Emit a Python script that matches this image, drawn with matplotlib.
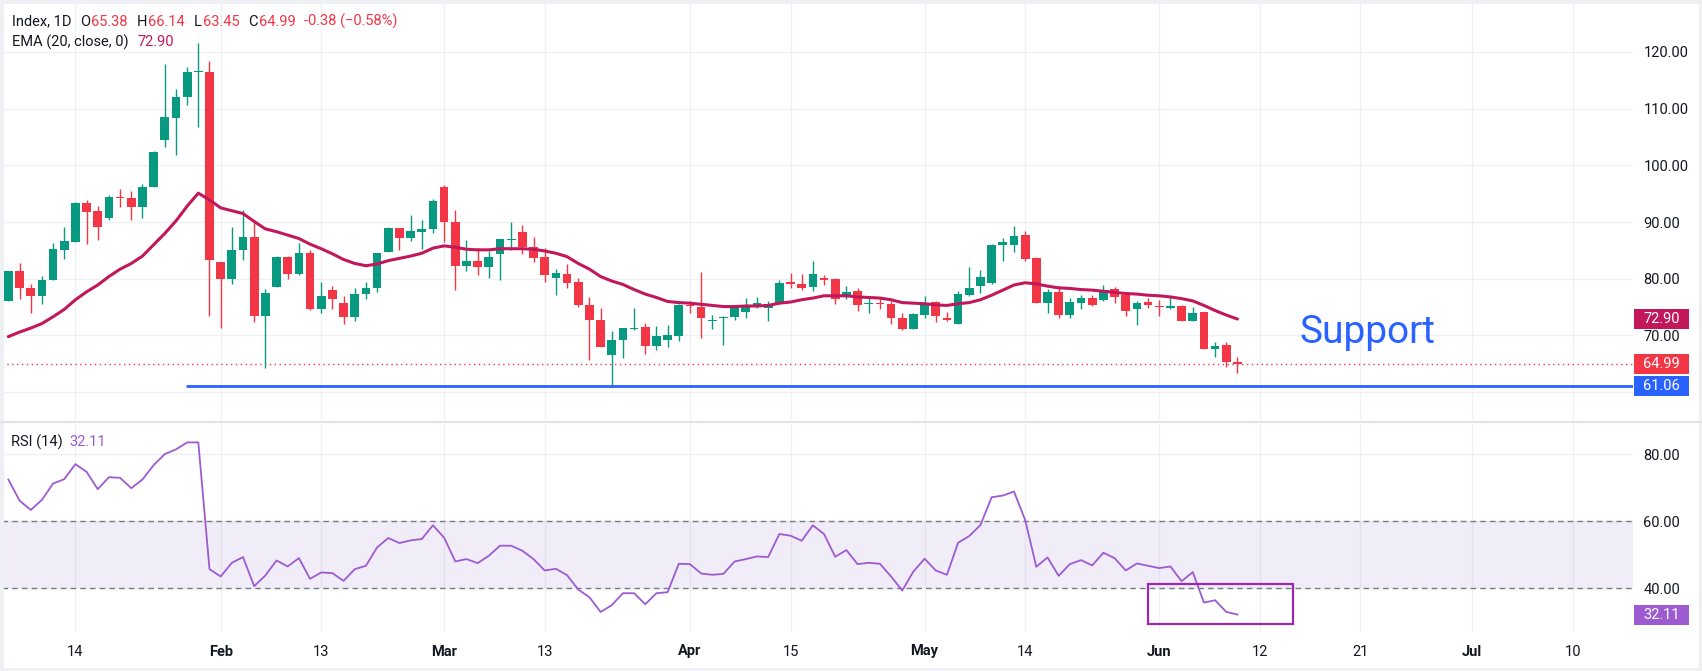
import numpy as np
import matplotlib
matplotlib.use("Agg")
import matplotlib.pyplot as plt
from matplotlib.patches import Rectangle
from matplotlib.lines import Line2D
from matplotlib.transforms import blended_transform_factory

plt.rcParams['font.family'] = ['Roboto', 'DejaVu Sans']

# daily candles (bar index 0 .. 110)
opens = [76.1, 81.4, 78.4, 76.9, 79.8, 85.1, 86.5, 93.3, 91.9, 90.7,
         94.4, 94.3, 92.6, 96.1, 104.5, 108.4, 112.0, 116.4, 116.5, 82.9,
         79.9, 85.0, 87.4, 73.5, 78.6, 83.8, 80.9, 84.5, 74.7, 78.1,
         75.8, 73.2, 77.3, 78.3, 84.7, 89.0, 87.2, 88.3, 88.7, 96.2,
         90.0, 82.3, 83.1, 82.0, 84.3, 86.9, 88.2, 85.6, 83.8, 80.2,
         80.9, 79.5, 75.4, 72.8, 66.6, 69.2, 71.1, 71.5, 68.2, 69.2,
         69.9, 75.3, 75.1, 72.5, 73.0, 73.2, 74.2, 75.3, 74.8, 75.5,
         79.5, 79.1, 78.5, 80.2, 80.0, 76.9, 77.8, 75.6, 75.6, 75.5,
         73.1, 71.2, 73.7, 75.9, 73.0, 72.1, 77.1, 78.8, 79.3, 86.0,
         85.9, 87.7, 83.6, 75.8, 77.7, 73.7, 75.8, 76.6, 76.2, 78.2,
         77.1, 74.6, 75.9, 75.1, 74.9, 75.2, 72.6, 74.1, 67.6, 68.3,
         65.38]
highs = [81.4, 82.7, 79.1, 80.5, 86.3, 89.1, 93.5, 93.9, 92.8, 94.7,
         95.8, 95.5, 96.7, 102.5, 117.8, 113.5, 117.4, 121.5, 118.4, 82.9,
         89.1, 92.1, 90.4, 78.2, 84.0, 84.0, 86.3, 85.0, 79.4, 78.8,
         77.0, 78.4, 79.4, 84.5, 89.1, 89.0, 91.2, 90.4, 94.1, 96.6,
         92.1, 86.8, 85.5, 84.9, 87.0, 90.0, 89.4, 87.4, 85.4, 81.8,
         82.6, 80.2, 76.8, 74.9, 70.8, 71.3, 74.9, 72.2, 71.7, 71.8,
         75.5, 76.1, 81.25, 73.7, 73.5, 75.1, 76.6, 76.8, 76.0, 79.7,
         81.0, 80.9, 83.1, 80.7, 80.2, 78.8, 78.4, 76.7, 76.6, 76.1,
         74.0, 74.0, 77.0, 76.1, 74.1, 77.8, 82.1, 81.5, 86.1, 87.2,
         89.3, 88.4, 83.8, 78.2, 78.8, 76.6, 77.1, 77.1, 78.9, 78.6,
         77.1, 76.1, 76.6, 76.3, 77.0, 75.4, 75.0, 74.1, 68.9, 68.9,
         66.14]
lows = [76.0, 76.5, 73.9, 75.6, 79.7, 83.5, 86.5, 86.2, 86.8, 90.4,
        92.7, 90.4, 90.8, 96.1, 103.2, 101.9, 110.6, 106.7, 73.5, 71.4,
        79.1, 83.3, 72.4, 64.2, 78.6, 80.0, 80.7, 74.5, 74.0, 74.7,
        72.1, 72.5, 76.5, 77.6, 84.7, 85.0, 86.7, 85.2, 88.0, 86.5,
        78.0, 81.4, 80.6, 80.2, 79.7, 85.1, 84.4, 83.0, 79.5, 77.2,
        78.3, 75.1, 65.6, 67.9, 60.95, 66.1, 70.9, 66.8, 67.5, 67.9,
        69.1, 74.0, 69.6, 71.2, 68.4, 72.8, 73.0, 74.9, 72.6, 75.5,
        78.3, 78.1, 77.9, 78.9, 75.5, 76.5, 74.4, 74.0, 74.7, 72.1,
        71.0, 71.2, 73.1, 72.3, 72.5, 72.1, 77.0, 77.5, 79.1, 83.2,
        84.8, 83.2, 75.8, 74.0, 73.1, 73.1, 74.6, 75.2, 76.1, 75.8,
        73.5, 71.9, 74.8, 73.4, 74.6, 72.6, 72.6, 67.6, 66.2, 64.5,
        63.45]
closes = [81.4, 78.3, 76.9, 79.8, 85.3, 86.7, 93.3, 91.8, 89.2, 94.5,
          94.2, 92.6, 96.2, 102.4, 108.5, 112.1, 116.5, 116.5, 83.3, 79.9,
          85.1, 87.4, 73.5, 77.5, 83.8, 80.9, 84.5, 74.7, 77.0, 76.5,
          73.2, 77.3, 78.4, 84.5, 89.0, 87.2, 88.4, 88.8, 93.7, 90.0,
          82.3, 83.1, 82.0, 83.8, 87.0, 87.1, 85.6, 83.7, 80.6, 81.0,
          79.2, 75.3, 72.8, 67.9, 69.2, 71.3, 71.3, 68.1, 69.9, 70.1,
          75.3, 75.2, 73.0, 72.7, 73.1, 75.1, 75.4, 75.8, 75.6, 79.3,
          79.0, 78.3, 80.9, 79.7, 76.5, 77.7, 75.3, 75.7, 75.5, 73.0,
          71.2, 73.8, 75.4, 73.5, 72.8, 77.3, 78.4, 80.3, 85.9, 86.5,
          87.5, 83.4, 75.8, 77.7, 73.7, 75.9, 76.6, 75.4, 78.0, 76.8,
          74.4, 75.8, 75.3, 75.0, 75.2, 72.6, 74.0, 67.6, 68.1, 65.37,
          64.99]
ema20 = [69.8, 70.6, 71.3, 72.1, 73.3, 74.6, 76.3, 77.7, 78.9, 80.4,
         81.7, 82.7, 84.0, 86.0, 88.0, 90.2, 92.8, 95.1, 93.9, 92.5,
         92.0, 91.5, 90.1, 88.8, 88.3, 87.7, 87.1, 86.1, 85.3, 84.4,
         83.4, 82.7, 82.3, 82.6, 83.2, 83.6, 84.0, 84.5, 85.4, 85.8,
         85.55, 85.2, 85.1, 85.1, 85.3, 85.3, 85.3, 85.2, 84.9, 84.5,
         83.9, 82.7, 81.7, 80.4, 79.6, 79.0, 78.1, 77.3, 76.7, 76.0,
         75.8, 75.7, 75.5, 75.3, 75.1, 75.1, 75.2, 75.2, 75.3, 75.7,
         75.9, 76.3, 76.6, 77.0, 77.0, 77.0, 76.8, 76.7, 76.6, 76.3,
         75.8, 75.7, 75.6, 75.4, 75.3, 75.6, 75.8, 76.3, 77.1, 78.0,
         78.9, 79.3, 79.1, 78.7, 78.4, 78.3, 78.1, 78.0, 77.8, 77.6,
         77.4, 77.3, 77.1, 77.0, 76.8, 76.5, 76.1, 75.3, 74.4, 73.6,
         72.90]
rsi14 = [72.5, 66.2, 63.4, 66.4, 71.3, 72.6, 77.1, 74.8, 69.6, 73.2,
         73.0, 69.9, 72.5, 76.8, 80.1, 81.5, 83.6, 83.6, 45.7, 43.5,
         47.6, 49.3, 40.6, 43.8, 48.3, 46.5, 49.0, 42.8, 44.7, 44.5,
         42.2, 45.7, 46.7, 52.2, 55.0, 53.5, 54.3, 54.7, 58.8, 55.1,
         48.0, 48.7, 47.5, 49.7, 52.7, 52.7, 51.2, 48.7, 45.3, 45.8,
         43.9, 39.6, 37.3, 32.9, 34.9, 38.5, 38.5, 35.2, 38.5, 38.8,
         47.3, 47.2, 44.4, 44.0, 44.3, 48.0, 48.7, 49.5, 49.3, 56.2,
         55.7, 54.2, 58.8, 56.2, 49.4, 51.4, 47.2, 47.6, 47.3, 43.5,
         39.3, 45.0, 48.8, 45.3, 44.0, 53.6, 55.6, 58.9, 67.2, 67.7,
         68.9, 60.4, 46.4, 49.2, 43.7, 47.2, 48.4, 46.8, 50.6, 49.0,
         45.3, 47.4, 46.7, 46.0, 46.5, 42.1, 44.8, 35.7, 36.4, 32.9,
         32.11]

tick_bars = [6, 19, 28, 39, 48, 61, 70, 82, 91, 103, 112, 121, 131, 140]
tick_labels = ["14", "Feb", "13", "Mar", "13", "Apr", "15", "May", "14",
               "Jun", "12", "21", "Jul", "10"]
month_names = {"Feb", "Mar", "Apr", "May", "Jun", "Jul"}
price_ticks = [60, 70, 80, 90, 100, 110, 120]
rsi_ticks = [40, 60, 80]

support_level = 61.06
support_from_bar = 16
rsi_box_bars = (102, 115)
rsi_box_levels = (29.3, 41.3)

GREEN = "#089981"
RED = "#f23645"
EMA_C = "#c2185b"
BLUE = "#2962ff"
RSI_C = "#9d5bd2"
BOX_C = "#9c27b0"
DARK = "#131722"
GRID = "#eff0f3"

W, H = 1702, 671
fig = plt.figure(figsize=(W / 100, H / 100), dpi=100)


def fx(px):
    return px / W


def fy(py):
    return 1 - py / H


ax = fig.add_axes([fx(2), fy(420), fx(1633) - fx(2), fy(2) - fy(420)])
ax_rsi = fig.add_axes([fx(2), fy(632), fx(1633) - fx(2), fy(423) - fy(632)])

x = np.arange(len(closes))
o, hi, lo, c = (np.array(a) for a in (opens, highs, lows, closes))
cols = np.where(c >= o, GREEN, RED)

# candles
ax.vlines(x, lo, hi, colors=cols, lw=1, zorder=3)
ax.bar(x, np.maximum(np.abs(c - o), 0.18), bottom=np.minimum(o, c),
       width=0.78, color=cols, lw=0, zorder=4)
ax.plot(x, ema20, color=EMA_C, lw=2.2, zorder=5, solid_capstyle="round")

xmin, xmax = -0.57, 145.4
ax.set_xlim(xmin, xmax)
ax.set_ylim(55.1, 128.8)
ax.axhline(c[-1], color=RED, lw=1, ls=(0, (1, 2.5)), zorder=2)
ax.hlines(support_level, support_from_bar - 0.1, xmax, color=BLUE, lw=2, zorder=6)
ax.text(115.55, 68.6, "Support", fontsize=28, color=BLUE, ha="left", va="baseline")

# RSI pane
ax_rsi.axhspan(40, 60, color="#7e57c2", alpha=0.1, lw=0)
for lvl in (40, 60):
    ax_rsi.axhline(lvl, color="#787b86", lw=1, ls=(0, (4, 3)), zorder=2)
ax_rsi.plot(x, rsi14, color=RSI_C, lw=1.3, zorder=4)
ax_rsi.add_patch(Rectangle((rsi_box_bars[0], rsi_box_levels[0]),
                           rsi_box_bars[1] - rsi_box_bars[0],
                           rsi_box_levels[1] - rsi_box_levels[0],
                           fill=False, edgecolor=BOX_C, lw=1.6, zorder=5))
ax_rsi.set_xlim(xmin, xmax)
ax_rsi.set_ylim(26.9, 89.4)

for a in (ax, ax_rsi):
    for s in a.spines.values():
        s.set_visible(False)
    a.set_xticks(tick_bars)
    a.grid(True, color=GRID, lw=1, zorder=0)
    a.set_axisbelow(True)
    a.yaxis.tick_right()
    a.tick_params(length=0, labelsize=10.5, labelcolor=DARK, pad=7.5)

ax.set_yticks(price_ticks)
ax.set_yticklabels(["" if v == 60 else f"{v:.2f}" for v in price_ticks])
ax.tick_params(labelbottom=False)
ax_rsi.set_yticks(rsi_ticks)
ax_rsi.set_yticklabels([f"{v:.2f}" for v in rsi_ticks])
ax_rsi.set_xticklabels(tick_labels)
ax_rsi.tick_params(axis="x", pad=9)
for lab in ax_rsi.get_xticklabels():
    if lab.get_text() in month_names:
        lab.set_fontweight("bold")


# value boxes on the price scale
def value_box(a, val, color, px_per_unit):
    tr = blended_transform_factory(fig.transFigure, a.transData)
    half = 10 / px_per_unit
    fig.add_artist(Rectangle((fx(1634), val - half), fx(1689) - fx(1634), 2 * half,
                             transform=tr, facecolor=color, edgecolor="none", zorder=10))
    fig.text(fx(1661.5), val, f"{val:.2f}", transform=tr, color="white",
             fontsize=10.5, ha="center", va="center", zorder=11)


value_box(ax, ema20[-1], EMA_C, 5.67)
value_box(ax, c[-1], RED, 5.67)
value_box(ax, support_level, BLUE, 5.67)
value_box(ax_rsi, rsi14[-1], RSI_C, 3.34)

# legend rows
renderer = fig.canvas.get_renderer()


def write_row(pieces, x0, y0):
    xp = x0
    for s, col, gap in pieces:
        t = fig.text(fx(xp), fy(y0), s, color=col, fontsize=10.5, ha="left", va="center")
        bb = t.get_window_extent(renderer=renderer)
        xp = bb.x1 + gap


chg = c[-1] - c[-2]
pct = chg / c[-2] * 100
write_row([("Index, 1D", DARK, 9), ("O", DARK, 1), (f"{o[-1]:.2f}", RED, 9),
           ("H", DARK, 1), (f"{hi[-1]:.2f}", RED, 9), ("L", DARK, 1),
           (f"{lo[-1]:.2f}", RED, 9), ("C", DARK, 1), (f"{c[-1]:.2f}", RED, 9),
           (f"{chg:.2f} (\u2212{abs(pct):.2f}%)", RED, 0)], 11.5, 21.5)
write_row([("EMA (20, close, 0)", DARK, 9), (f"{ema20[-1]:.2f}", EMA_C, 0)], 11.5, 42.5)
write_row([("RSI (14)", DARK, 7), (f"{rsi14[-1]:.2f}", RSI_C, 0)], 11, 442)

# pane separator and outer frame
fig.add_artist(Line2D([0, 1], [fy(421.5), fy(421.5)], color="#e0e3eb", lw=1.5))
fig.add_artist(Rectangle((0, 0), 1, 1, transform=fig.transFigure, fill=False,
                         edgecolor="#eef0f4", lw=5))

fig.savefig("out.png", dpi=100)
